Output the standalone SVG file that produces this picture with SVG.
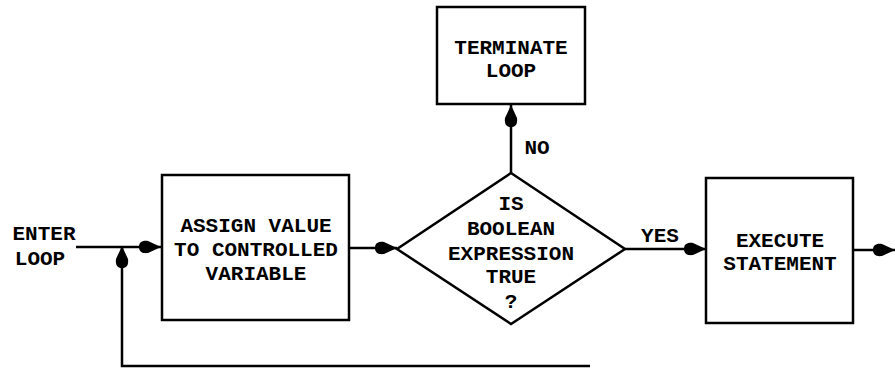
<svg xmlns="http://www.w3.org/2000/svg" width="895" height="368" viewBox="0 0 895 368">
  <style>
    .box { fill: #fff; stroke: #000; stroke-width: 2.5; }
    .wire { fill: none; stroke: #000; stroke-width: 2.5; }
    text { font-family: "Liberation Mono", "DejaVu Sans Mono", monospace; font-weight: bold; font-size: 21px; fill: #000; }
    .c { text-anchor: middle; }
  </style>
  <defs>
    <marker id="head" markerUnits="userSpaceOnUse" viewBox="0 0 24 16" markerWidth="24" markerHeight="16" refX="23" refY="8" orient="auto">
      <path d="M1,8 C1,2 6,1.5 10,2 L23,8 L10,14 C6,14.5 1,14 1,8 z" fill="#000"/>
    </marker>
  </defs>

  <rect width="895" height="368" fill="#fff"/>

  <!-- connectors -->
  <g id="connectors">
    <line class="wire" x1="76" y1="247" x2="161" y2="247" marker-end="url(#head)"/>
    <polyline class="wire" points="590,366 122,366 122,246" marker-end="url(#head)"/>
    <line class="wire" x1="349" y1="248" x2="397" y2="248" marker-end="url(#head)"/>
    <line class="wire" x1="511" y1="173" x2="511" y2="105" marker-end="url(#head)"/>
    <line class="wire" x1="625" y1="249" x2="706" y2="249" marker-end="url(#head)"/>
    <line class="wire" x1="853" y1="250" x2="895" y2="250" marker-end="url(#head)"/>
  </g>

  <!-- entry label -->
  <g id="enter">
    <text x="44" y="240" class="c">ENTER</text>
    <text x="40" y="265" class="c">LOOP</text>
  </g>

  <g id="assign">
    <rect class="box" x="162" y="175" width="187" height="145"/>
    <text x="256" y="232" class="c">ASSIGN VALUE</text>
    <text x="256" y="256" class="c">TO CONTROLLED</text>
    <text x="256" y="280" class="c">VARIABLE</text>
  </g>

  <g id="decision">
    <polygon class="box" points="511,173 625,249 511,324 397,249"/>
    <text x="511" y="210" class="c">IS</text>
    <text x="511" y="235" class="c">BOOLEAN</text>
    <text x="511" y="260" class="c">EXPRESSION</text>
    <text x="511" y="283" class="c">TRUE</text>
    <text x="511" y="308" class="c">?</text>
  </g>

  <g id="terminate">
    <rect class="box" x="437" y="7" width="148" height="97"/>
    <text x="511" y="54" class="c">TERMINATE</text>
    <text x="511" y="77" class="c">LOOP</text>
  </g>

  <g id="execute">
    <rect class="box" x="706" y="178" width="147" height="145"/>
    <text x="780" y="247" class="c">EXECUTE</text>
    <text x="780" y="270" class="c">STATEMENT</text>
  </g>

  <!-- branch labels -->
  <g id="labels">
    <text x="537" y="154" class="c">NO</text>
    <text x="660" y="242" class="c">YES</text>
  </g>
</svg>
